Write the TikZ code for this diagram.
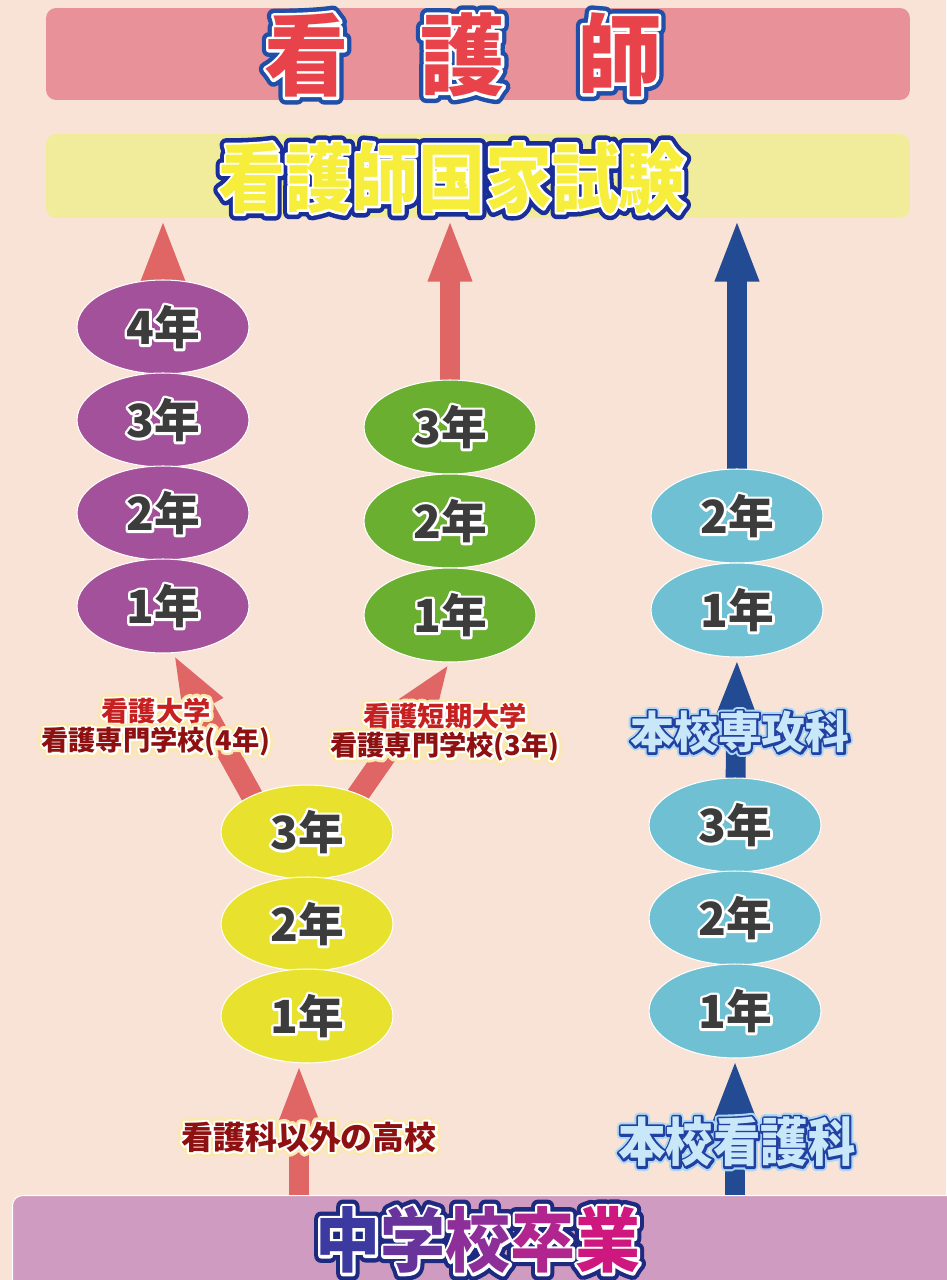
\documentclass[tikz,border=0pt]{standalone}
\usepackage{fontspec}
\usetikzlibrary{shapes.geometric,arrows.meta,backgrounds}

\IfFontExistsTF{Noto Sans CJK JP Black}{\newfontfamily\jp{Noto Sans CJK JP Black}}{%
  \IfFontExistsTF{Noto Sans CJK JP Bold}{\newfontfamily\jp{Noto Sans CJK JP Bold}}{\newfontfamily\jp{Noto Sans CJK JP}}}

\definecolor{pagepeach}{RGB}{248,227,214}
\definecolor{titlepink}{RGB}{232,145,152}
\definecolor{examyellow}{RGB}{240,236,156}
\definecolor{gradpink}{RGB}{207,155,192}
\definecolor{univviolet}{RGB}{163,81,154}
\definecolor{juniorgreen}{RGB}{106,175,48}
\definecolor{schoolcyan}{RGB}{110,192,210}
\definecolor{highyellow}{RGB}{232,226,47}
\definecolor{arrowred}{RGB}{224,101,101}
\definecolor{arrowblue}{RGB}{35,75,148}
\definecolor{titlered}{RGB}{232,67,75}
\definecolor{titleblue}{RGB}{31,79,168}
\definecolor{examtext}{RGB}{246,238,58}
\definecolor{examblue}{RGB}{26,46,154}
\definecolor{labelred}{RGB}{198,32,32}
\definecolor{labeldark}{RGB}{142,16,16}
\definecolor{labelglow}{RGB}{252,232,170}
\definecolor{skytext}{RGB}{200,232,250}
\definecolor{skyline}{RGB}{35,64,160}
\definecolor{skyglow}{RGB}{170,215,245}
\definecolor{gradline}{RGB}{30,42,128}
\definecolor{yeargray}{RGB}{60,60,60}
\definecolor{gradA}{RGB}{60,58,160}
\definecolor{gradB}{RGB}{104,52,156}
\definecolor{gradC}{RGB}{142,46,152}
\definecolor{gradD}{RGB}{176,38,142}
\definecolor{gradE}{RGB}{206,24,128}

\newcommand\rim[3]{{\color{#2}\special{pdf:literal direct 1 j #3 w 2 Tr}#1\special{pdf:literal direct 0 Tr}}}
\newcommand\ringed[6]{\rlap{\rim{#1}{#5}{#6}}\rlap{\rim{#1}{#3}{#4}}{\color{#2}#1}}
\newcommand\yr[1]{\rlap{\rim{#1年}{white}{3}}{\color{yeargray}#1年}}

\begin{document}
\begin{tikzpicture}[x=0.02cm,y=-0.02cm,
    band/.style={rounded corners=0.2cm, minimum width=17.28cm, inner sep=0pt},
    year/.style={ellipse, draw=white, line width=0.6pt, minimum width=3.44cm, minimum height=1.88cm, inner sep=0pt, font=\jp\fontsize{26}{26}\selectfont},
    redarrow/.style={draw=arrowred, line width=11.3pt, -{Triangle[width=22.5pt,length=36pt]}},
    bluearrow/.style={draw=arrowblue, line width=11.3pt, -{Triangle[width=22.5pt,length=36pt]}},
    routelabel/.style={align=center, inner sep=0pt, font=\jp\fontsize{15.5}{16.5}\selectfont}]

    \useasboundingbox (0,0) rectangle (946,1280);

    \node[band, fill=titlepink, minimum height=1.84cm] (title) at (478,54) {};
    \node[band, fill=examyellow, minimum height=1.68cm] (exam) at (478,176) {};
    \node[fill=gradpink, draw=white, line width=0.6pt, rounded corners=0.2cm, minimum width=19cm, minimum height=2.2cm, inner sep=0pt, anchor=north west] (grad) at (12,1195) {};

    \node (titletext) at (463,55) {\jp\fontsize{48}{48}\selectfont\scalebox{1}[1.05]{\ringed{看\hspace{41pt}護\hspace{41pt}師}{titlered}{white}{3.2}{titleblue}{8}}};
    \node (examtext) at (452,178) {\jp\fontsize{38}{38}\selectfont\scalebox{1}[1.12]{\ringed{看護師国家試験}{examtext}{white}{2.4}{examblue}{7}}};

    \node[year, fill=univviolet] (p4) at (163,327) {\yr{4}};
    \node[year, fill=univviolet] (p3) at (163,420) {\yr{3}};
    \node[year, fill=univviolet] (p2) at (163,513) {\yr{2}};
    \node[year, fill=univviolet] (p1) at (163,606) {\yr{1}};

    \node[year, fill=juniorgreen] (g3) at (450,427) {\yr{3}};
    \node[year, fill=juniorgreen] (g2) at (450,521) {\yr{2}};
    \node[year, fill=juniorgreen] (g1) at (450,615) {\yr{1}};

    \node[year, fill=schoolcyan] (c2) at (737,516) {\yr{2}};
    \node[year, fill=schoolcyan] (c1) at (737,610) {\yr{1}};

    \node[year, fill=highyellow] (y3) at (307,832) {\yr{3}};
    \node[year, fill=highyellow] (y2) at (307,924) {\yr{2}};
    \node[year, fill=highyellow] (y1) at (307,1016) {\yr{1}};

    \node[year, fill=schoolcyan] (d3) at (735,825) {\yr{3}};
    \node[year, fill=schoolcyan] (d2) at (735,918) {\yr{2}};
    \node[year, fill=schoolcyan] (d1) at (735,1011) {\yr{1}};

    \node[routelabel] (univ) at (156,727) {\ringed{看護大学}{labelred}{white}{2.4}{labelglow}{5.2}\\\ringed{看護専門学校(4年)}{labeldark}{white}{2.4}{labelglow}{5.2}};
    \node[routelabel] (junior) at (445,732) {\ringed{看護短期大学}{labelred}{white}{2.4}{labelglow}{5.2}\\\ringed{看護専門学校(3年)}{labeldark}{white}{2.4}{labelglow}{5.2}};
    \node (advanced) at (740,732) {\jp\fontsize{25}{25}\selectfont\ringed{本校専攻科}{skytext}{skyline}{2.4}{skyglow}{4.6}};
    \node (other) at (309,1137) {\jp\fontsize{18.2}{18.2}\selectfont\ringed{看護科以外の高校}{labeldark}{white}{2.4}{labelglow}{5.2}};
    \node (course) at (737,1142) {\jp\fontsize{27}{27}\selectfont\scalebox{1}[1.1]{\ringed{本校看護科}{skytext}{skyline}{2.4}{skyglow}{4.6}}};
    \node (gradtext) at (478,1240) {\jp\fontsize{37}{37}\selectfont\scalebox{1}[1.08]{\rlap{\rim{中学校卒業}{gradline}{7.6}}\rlap{\rim{中学校卒業}{white}{3}}{\color{gradA}中}{\color{gradB}学}{\color{gradC}校}{\color{gradD}卒}{\color{gradE}業}}};

    \begin{scope}[on background layer]
    \fill[pagepeach] (0,0) rectangle (946,1280);
    \draw[redarrow] (p1.center) -- (p1.center |- exam.south);
    \draw[redarrow] (g3.center) -- (g3.center |- exam.south);
    \draw[bluearrow] (c2.center) -- (c2.center |- exam.south);
    \draw[redarrow, line width=12.5pt] ([xshift=-0.7cm]y3.center) -- ([xshift=0.2cm]p1.south);
    \draw[redarrow, line width=12.5pt] ([xshift=0.5cm]y3.center) -- (g1.south);
    \draw[bluearrow] (d3.center) -- (c1.south);
    \draw[redarrow] ([xshift=-0.16cm]y1.south |- grad.north) -- ([xshift=-0.16cm]y1.south);
    \draw[bluearrow] (d1.south |- grad.north) -- (d1.south);
    \end{scope}

\end{tikzpicture}
\end{document}
